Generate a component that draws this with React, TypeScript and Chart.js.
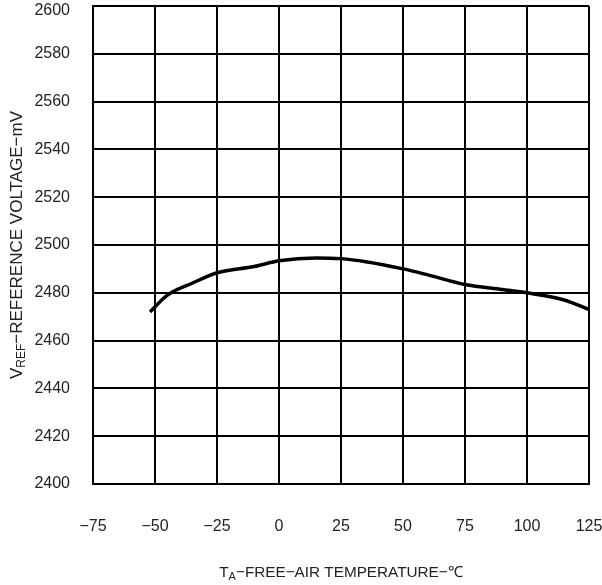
import React, { useEffect, useRef } from "react";
import { Chart, registerables } from "chart.js";

Chart.register(...registerables);

const temperatures = [-52, -45, -35, -25, -10, 0, 15, 25, 35, 50, 60, 75, 90, 100, 115, 125];
const voltages = [2472, 2479, 2484, 2488.4, 2491, 2493.4, 2494.6, 2494.3, 2493, 2490, 2487.5, 2483.5, 2481.4, 2480, 2477, 2473];
const xTicks = [-75, -50, -25, 0, 25, 50, 75, 100, 125];
const yTicks = [2400, 2420, 2440, 2460, 2480, 2500, 2520, 2540, 2560, 2580, 2600];
const Y_MAX = 2600;

const FONT = "'Liberation Sans', Arial, sans-serif";
const TEXT = "#222";

const titlePlugin = {
  id: "subTitles",
  afterDraw(chart: any) {
    const { ctx, chartArea } = chart;
    const cx = (chartArea.left + chartArea.right) / 2;
    const cy = (chartArea.top + chartArea.bottom) / 2;
    const drawParts = (parts: { t: string; sub?: boolean }[], x: number, y: number, size: number) => {
      ctx.textBaseline = "alphabetic";
      ctx.textAlign = "left";
      const subSize = Math.round(size * 0.7);
      let total = 0;
      const widths = parts.map((p) => {
        ctx.font = (p.sub ? subSize : size) + "px " + FONT;
        const w = ctx.measureText(p.t).width;
        total += w;
        return w;
      });
      let px = x - total / 2;
      parts.forEach((p, i) => {
        ctx.font = (p.sub ? subSize : size) + "px " + FONT;
        ctx.fillText(p.t, px, p.sub ? y + 3 : y);
        px += widths[i];
      });
    };
    ctx.save();
    ctx.fillStyle = TEXT;
    // top y tick label, kept inside the canvas
    const yScale = chart.scales.y;
    const topY = Math.max(yScale.getPixelForValue(Y_MAX) - 1.5, 10.5);
    ctx.font = "16px " + FONT;
    ctx.textAlign = "right";
    ctx.textBaseline = "middle";
    ctx.fillText(String(Y_MAX), chartArea.left - 23, topY);

    drawParts(
      [{ t: "T" }, { t: "A", sub: true }, { t: "\u2212FREE\u2212AIR TEMPERATURE\u2212\u2103" }],
      cx,
      577,
      15.3
    );
    ctx.translate(22, cy);
    ctx.rotate(-Math.PI / 2);
    drawParts(
      [{ t: "V" }, { t: "REF", sub: true }, { t: "\u2212REFERENCE VOLTAGE\u2212mV" }],
      0,
      0,
      17
    );
    ctx.restore();
  },
};

export default function App() {
  const ref = useRef<HTMLCanvasElement | null>(null);
  useEffect(() => {
    document.body.style.margin = "0";
    const canvas = ref.current!;
    const chart = new Chart(canvas, {
      type: "line",
      data: {
        datasets: [
          {
            data: temperatures.map((t, i) => ({ x: t, y: voltages[i] })),
            borderColor: "#000",
            borderWidth: 3.5,
            pointRadius: 0,
            cubicInterpolationMode: "monotone",
            fill: false,
          },
        ],
      },
      options: {
        animation: false,
        responsive: false,
        devicePixelRatio: 1,
        layout: { padding: { left: 0, top: 6, right: 13, bottom: 0 } },
        plugins: { legend: { display: false }, tooltip: { enabled: false } },
        scales: {
          x: {
            type: "linear",
            min: -75,
            max: 125,
            afterBuildTicks: (s: any) => {
              s.ticks = xTicks.map((v) => ({ value: v }));
            },
            afterFit: (s: any) => {
              s.height = 101;
              s.paddingLeft = 0;
              s.paddingRight = 0;
              s.paddingTop = 0;
              s.paddingBottom = 0;
            },
            grid: { color: "#000", lineWidth: 2, drawTicks: false },
            border: { color: "#000", width: 2 },
            ticks: {
              padding: 33,
              maxRotation: 0,
              minRotation: 0,
              color: TEXT,
              font: { family: FONT, size: 16 },
              callback: (v: any) => String(v).replace("-", "\u2212"),
            },
          },
          y: {
            type: "linear",
            min: 2400,
            max: Y_MAX,
            afterBuildTicks: (s: any) => {
              s.ticks = yTicks.map((v) => ({ value: v }));
            },
            afterFit: (s: any) => {
              s.width = 93;
              s.paddingLeft = 0;
              s.paddingRight = 0;
              s.paddingTop = 0;
              s.paddingBottom = 0;
            },
            grid: { color: "#000", lineWidth: 2, drawTicks: false },
            border: { color: "#000", width: 2 },
            ticks: {
              padding: 23,
              color: TEXT,
              font: { family: FONT, size: 16 },
              callback: (v: any) => (v === Y_MAX ? "" : String(v)),
            },
          },
        },
      },
      plugins: [titlePlugin],
    } as any);
    return () => chart.destroy();
  }, []);
  return (
    <div style={{ width: 602, height: 585, background: "#fff" }}>
      <canvas ref={ref} width={602} height={585} style={{ display: "block" }} />
    </div>
  );
}
